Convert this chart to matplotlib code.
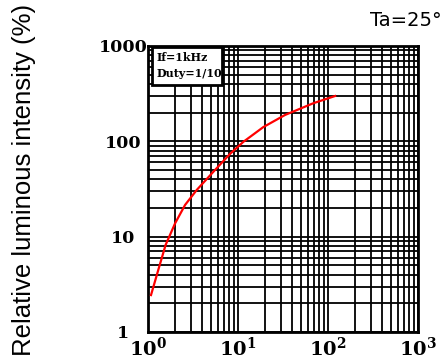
import numpy as np
import matplotlib.pyplot as plt
from matplotlib.patches import Rectangle
from matplotlib.ticker import FuncFormatter, LogLocator, FixedLocator

plt.rcParams['mathtext.fontset'] = 'dejavuserif'

# curve (x on log axis, relative intensity in %)
current = [1.08, 1.3, 1.57, 2.0, 2.58, 3.48, 5.55, 8.15, 11.5, 19.1, 33.3, 68.7, 120]
intensity = [2.44, 4.47, 8.2, 13.8, 21.5, 30.9, 50, 73.8, 99, 141, 189, 251, 299]

y_ticks = [1, 10, 100, 1000]
y_labels = ['1', '10', '100', '1000']
x_ticks = [1, 10, 100, 1000]

fig = plt.figure(figsize=(4.48, 3.64), dpi=100)
ax = fig.add_axes([148/448, 32/364, 270/448, 286/364])

ax.set_xscale('log')
ax.set_yscale('log')
ax.set_xlim(1, 1000)
ax.set_ylim(1, 1000)

ax.xaxis.set_major_locator(FixedLocator(x_ticks))
ax.xaxis.set_minor_locator(LogLocator(base=10, subs=np.arange(2, 10)))
ax.yaxis.set_major_locator(FixedLocator(y_ticks))
ax.yaxis.set_minor_locator(LogLocator(base=10, subs=np.arange(2, 10)))
ax.xaxis.set_major_formatter(FuncFormatter(lambda v, p: r'$\mathbf{10^{%d}}$' % round(np.log10(v))))
ax.set_yticklabels(y_labels)
ax.yaxis.set_minor_formatter(FuncFormatter(lambda v, p: ''))
ax.xaxis.set_minor_formatter(FuncFormatter(lambda v, p: ''))

ax.grid(True, which='both', color='black', linewidth=1.3)
ax.tick_params(which='both', length=0)
ax.tick_params(axis='y', pad=18)
ax.tick_params(axis='x', pad=3, labelsize=14)
for lab in ax.get_yticklabels():
    lab.set_fontfamily('DejaVu Serif')
    lab.set_fontweight('bold')
    lab.set_fontsize(12.5)
    lab.set_horizontalalignment('center')
for sp in ax.spines.values():
    sp.set_linewidth(2)

ax.plot(current, intensity, color='red', linewidth=1.6, zorder=4)

ax.add_patch(Rectangle((0.015, 0.864), 0.259, 0.134, transform=ax.transAxes,
                       facecolor='white', edgecolor='black', linewidth=2, zorder=5))
ax.text(0.03, 0.96, 'If=1kHz', transform=ax.transAxes, fontsize=8,
        family='DejaVu Serif', weight='bold', va='center', zorder=6)
ax.text(0.03, 0.905, 'Duty=1/10', transform=ax.transAxes, fontsize=8,
        family='DejaVu Serif', weight='bold', va='center', zorder=6)

fig.text(0.985, 0.945, 'Ta=25°', ha='right', va='center', fontsize=14,
         family='DejaVu Sans')
fig.text(0.054, 0.505, 'Relative luminous intensity (%)', rotation=90,
         ha='center', va='center', fontsize=18.5, family='Liberation Sans')

fig.savefig('out.png', dpi=100)
